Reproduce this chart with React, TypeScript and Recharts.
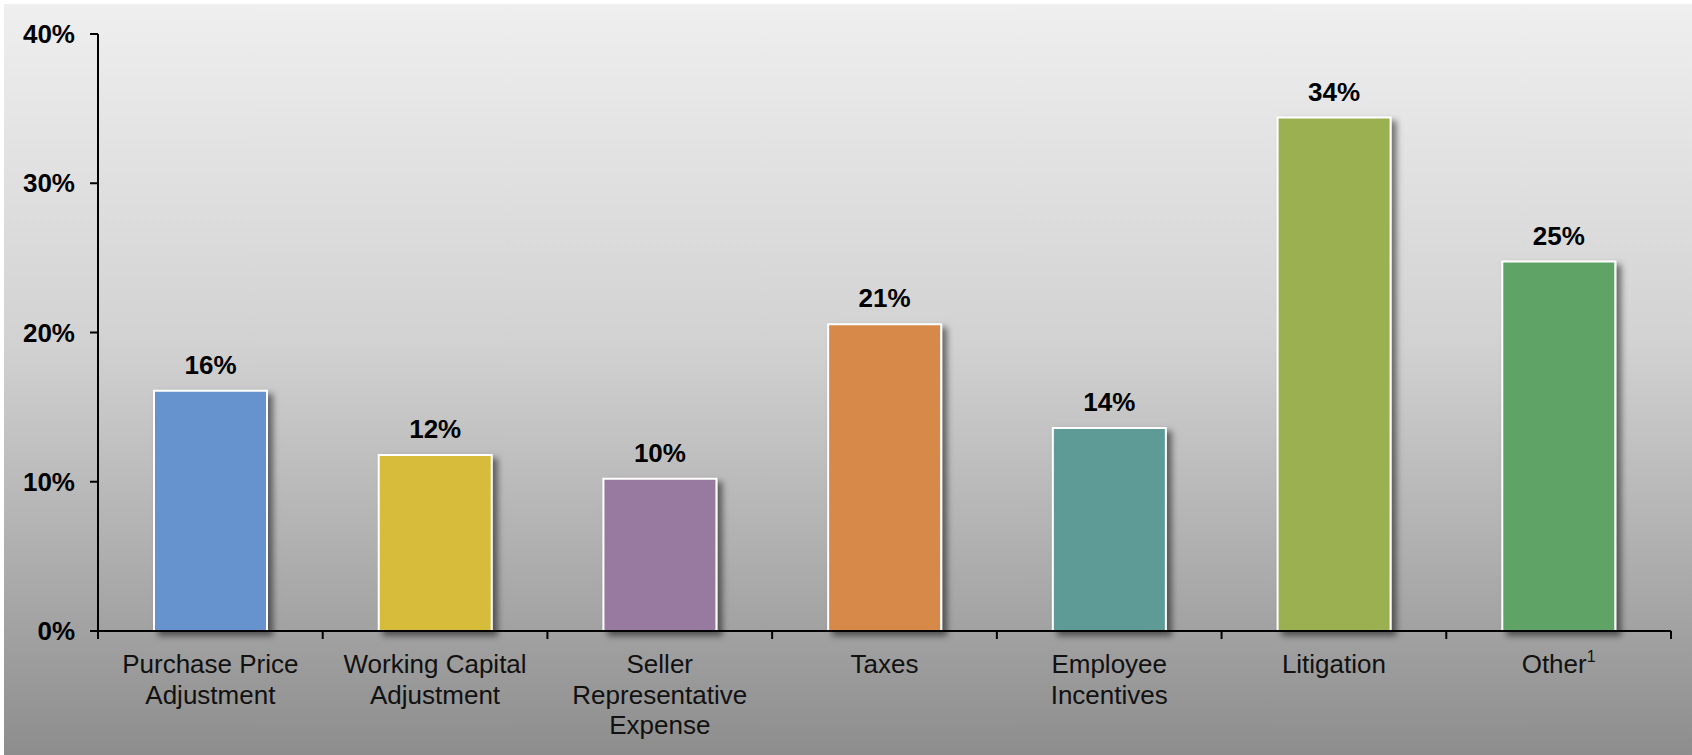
import { Bar, BarChart, Cell, LabelList, XAxis, YAxis } from "recharts";

const categories = [
  "Purchase Price Adjustment",
  "Working Capital Adjustment",
  "Seller Representative Expense",
  "Taxes",
  "Employee Incentives",
  "Litigation",
  "Other",
];

// how each category label wraps on the axis
const labelLines = [
  ["Purchase Price", "Adjustment"],
  ["Working Capital", "Adjustment"],
  ["Seller", "Representative", "Expense"],
  ["Taxes"],
  ["Employee", "Incentives"],
  ["Litigation"],
  ["Other"],
];

const shares = [16.1, 11.8, 10.2, 20.55, 13.6, 34.4, 24.75];
const barColors = [
  "#6692cd",
  "#d7bc3b",
  "#987aa1",
  "#d6894a",
  "#5f9b96",
  "#9bb151",
  "#5ea366",
];
const yTicks = [0, 10, 20, 30, 40];

const data = categories.map((name, i) => ({ name, value: shares[i] }));

const FONT = "'Liberation Sans', Arial, sans-serif";

function CategoryTick(props: any) {
  const { x, y, payload, index } = props;
  const half = payload.offset;
  const lines = labelLines[index] ?? [payload.value];
  return (
    <g>
      <line x1={x - half} y1={y} x2={x - half} y2={y + 8} stroke="#000" strokeWidth={2} />
      {index === categories.length - 1 && (
        <line x1={x + half} y1={y} x2={x + half} y2={y + 8} stroke="#000" strokeWidth={2} />
      )}
      <text textAnchor="middle" fontFamily={FONT} fontSize={26} fill="#111">
        {lines.map((line, i) => (
          <tspan key={i} x={x} y={y + 42 + i * 30.5}>
            {line}
            {index === categories.length - 1 && (
              <tspan fontSize={16} dy={-11}>
                1
              </tspan>
            )}
          </tspan>
        ))}
      </text>
    </g>
  );
}

export default function App() {
  return (
    <div
      style={{
        position: "absolute",
        left: 0,
        top: 0,
        width: 1692,
        height: 755,
        background: "#fff",
      }}
    >
      <div
        style={{
          position: "absolute",
          left: 4,
          top: 4,
          right: 0,
          bottom: 0,
          background: "linear-gradient(to bottom, #efefef 0%, #d2d2d2 45%, #8d8d8d 100%)",
        }}
      />
      <div style={{ position: "absolute", left: 0, top: 0 }}>
        <BarChart
          width={1692}
          height={755}
          data={data}
          margin={{ top: 34, right: 21, left: 0, bottom: 0 }}
          barSize={113}
        >
          <defs>
            <filter id="barShadow" x="-20%" y="-20%" width="140%" height="140%">
              <feDropShadow dx={5} dy={4} stdDeviation={3} floodColor="#000" floodOpacity={0.5} />
            </filter>
          </defs>
          <YAxis
            domain={[0, 40]}
            ticks={yTicks}
            tickFormatter={(v) => `${v}%`}
            width={98}
            tickSize={8}
            tickMargin={15}
            axisLine={{ stroke: "#000", strokeWidth: 2 }}
            tickLine={{ stroke: "#000", strokeWidth: 2 }}
            tick={{ fontSize: 26, fontWeight: "bold", fontFamily: FONT, fill: "#000" }}
          />
          <XAxis
            dataKey="name"
            height={124}
            interval={0}
            tickLine={false}
            tickSize={0}
            tickMargin={0}
            axisLine={{ stroke: "#000", strokeWidth: 2 }}
            tick={<CategoryTick />}
          />
          <Bar
            dataKey="value"
            stroke="#fff"
            strokeWidth={2}
            filter="url(#barShadow)"
            isAnimationActive={false}
          >
            {data.map((d, i) => (
              <Cell key={d.name} fill={barColors[i]} />
            ))}
            <LabelList
              dataKey="value"
              position="top"
              offset={17}
              formatter={(v: any) => `${Math.round(v)}%`}
              style={{ fontSize: 26, fontWeight: "bold", fontFamily: FONT, fill: "#000" }}
            />
          </Bar>
        </BarChart>
      </div>
    </div>
  );
}
